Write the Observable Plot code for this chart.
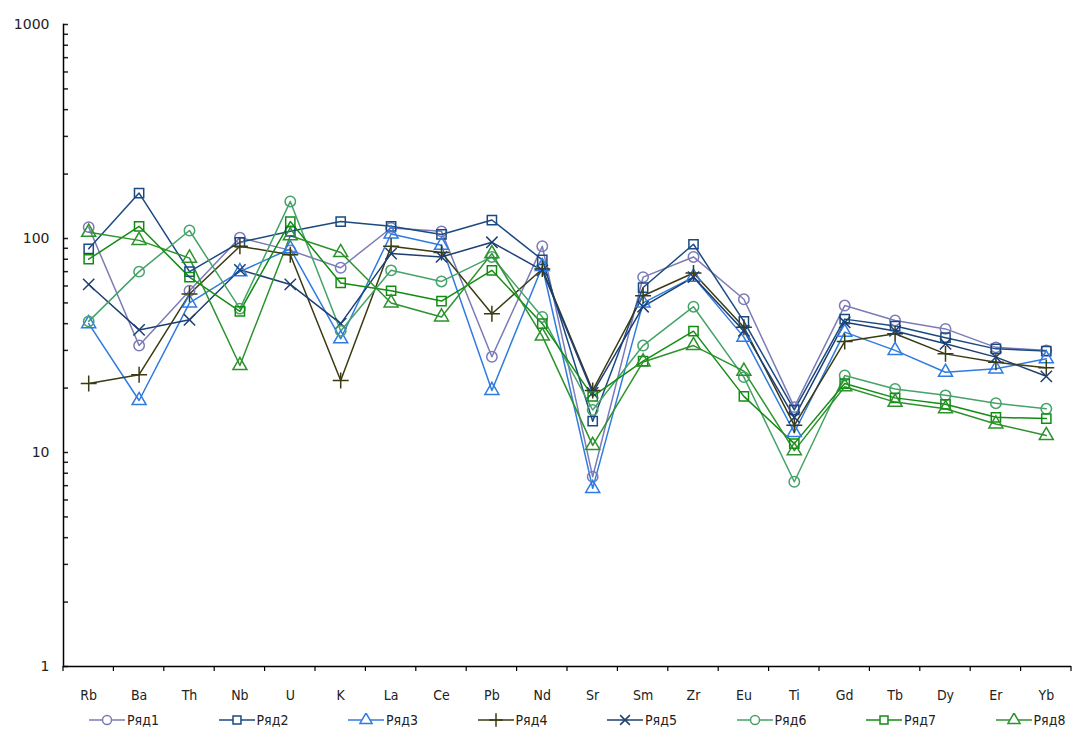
<!DOCTYPE html>
<html><head><meta charset="utf-8">
<script src="https://cdn.jsdelivr.net/npm/d3@7"></script>
<script src="https://cdn.jsdelivr.net/npm/@observablehq/plot@0.6"></script>
<style>
body{margin:0;background:#fff;}
#legend{display:flex;padding-left:88px;height:28px;align-items:center;font-family:"Liberation Sans Narrow","DejaVu Sans Condensed",sans-serif;font-size:14px;color:#222;}
.item{width:129.5px;display:flex;align-items:center;flex:none;}
.item svg{margin-right:1px;}
</style>
</head><body>
<div id="chart"></div>
<div id="legend"></div>
<script>
const elements = ["Rb","Ba","Th","Nb","U","K","La","Ce","Pb","Nd","Sr","Sm","Zr","Eu","Ti","Gd","Tb","Dy","Er","Yb"];
const ryad1 = [113,31.6,57,101,88,73,112,108,28,92,7.7,66,82,52,16.3,48.6,41.4,37.8,31,30];
const ryad2 = [89.5,163,70,96,108,120,114,104.5,122,79.5,14,59,94,41,15.8,42,39,34.4,30.5,29.8];
const ryad3 = [40,17.5,50,70,89.5,34,105,93,19.5,74,6.8,50,66,34.6,12.4,36.5,30,23.7,24.6,27.4];
const ryad4 = [21,23.1,55,92,84,21.7,92,86,44.5,72,19.5,54,69,38.5,13.4,33,35.9,28.9,26.4,24.9];
const ryad5 = [61,37.4,41.7,71.4,61,40,85,82,96,71,19,48,66,37,14.6,40.6,37,32.2,27.9,22.7];
const ryad6 = [41,70,109,47,149,37,71,63,82,43,15.8,31.6,48,22.5,7.3,22.9,19.8,18.5,17,16];
const ryad7 = [80,114,66,45.7,120,62,57,51,71,40,18.3,26.7,36.9,18.3,11,21,18,16.8,14.6,14.4];
const ryad8 = [107,98,81,25.5,103,86,50,43,85,35,10.8,26.5,31.6,24,10.2,20.3,17.2,16,13.6,12];
const seriesNames = ["Ряд1","Ряд2","Ряд3","Ряд4","Ряд5","Ряд6","Ряд7","Ряд8"];
const seriesColors = ["#7b7bb8","#1b4a82","#2f7be0","#3b3b12","#1d3f72","#45a268","#128c12","#2c922c"];
const seriesSymbols = ["circle","square","triangle","plus","times","circle","square","triangle"];
const yMajor = [1,10,100,1000];
const yMinor = [2,3,4,5,6,7,8,9,20,30,40,50,60,70,80,90,200,300,400,500,600,700,800,900];

const allSeries = [ryad1,ryad2,ryad3,ryad4,ryad5,ryad6,ryad7,ryad8];
const data = allSeries.flatMap((vals, s) => vals.map((v, i) => ({el: elements[i], value: v, series: seriesNames[s]})));

const chart = Plot.plot({
  width: 1078, height: 706,
  marginTop: 24, marginBottom: 40, marginLeft: 63, marginRight: 7,
  style: {background: "#fff", color: "#222"},
  x: {type: "point", domain: elements, padding: 0.5, round: false},
  y: {type: "log", domain: [1, 1000]},
  color: {domain: seriesNames, range: seriesColors},
  symbol: {domain: seriesNames, range: seriesSymbols},
  marks: [
    Plot.axisY({ticks: yMajor, tickFormat: d3.format("d"), tickSize: 0, tickPadding: 14, fontSize: 14, fontFamily: "DejaVu Sans", label: null}),
    Plot.axisY({ticks: yMajor.concat(yMinor), tickFormat: () => "", tickSize: -5, strokeWidth: 1.5, label: null}),
    Plot.axisX({tickSize: 0, tickPadding: 24, fontSize: 14, fontFamily: "Liberation Sans Narrow, DejaVu Sans Condensed, sans-serif", label: null}),
    Plot.ruleY([1], {stroke: "#000", strokeWidth: 1.5}),
    Plot.frame({anchor: "left", stroke: "#000", strokeWidth: 1.5}),
    Plot.line(data, {x: "el", y: "value", z: "series", stroke: "series", strokeWidth: 1.5}),
    Plot.dot(data, {x: "el", y: "value", stroke: "series", symbol: "series", r: 5.2, strokeWidth: 1.5, fill: "none"})
  ]
});
document.getElementById("chart").appendChild(chart);

// x-axis boundary ticks using the Plot x scale
const xs = chart.scale("x");
const ys = chart.scale("y");
const step = xs.apply(elements[1]) - xs.apply(elements[0]);
const y0 = ys.apply(1);
const g = d3.select(chart).append("g").attr("stroke", "#000").attr("stroke-width", 1.2);
const bounds = elements.map(e => xs.apply(e) - step / 2).concat([xs.apply(elements[elements.length - 1]) + step / 2]);
bounds.forEach(bx => g.append("line").attr("x1", bx).attr("x2", bx).attr("y1", y0).attr("y2", y0 + 5));

// legend
const legend = d3.select("#legend");
const symMap = {circle: d3.symbolCircle, square: d3.symbolSquare, triangle: d3.symbolTriangle, plus: d3.symbolPlus, times: d3.symbolTimes};
seriesNames.forEach((name, i) => {
  const item = legend.append("div").attr("class", "item");
  const s = item.append("svg").attr("width", 38).attr("height", 14);
  s.append("line").attr("x1", 1).attr("x2", 37).attr("y1", 7).attr("y2", 7).attr("stroke", seriesColors[i]).attr("stroke-width", 1.5);
  s.append("path").attr("transform", "translate(19,7)").attr("d", d3.symbol(symMap[seriesSymbols[i]], Math.PI * 4.5 * 4.5)())
    .attr("fill", "#fff").attr("stroke", seriesColors[i]).attr("stroke-width", 1.5);
  item.append("span").text(name);
});
</script>
</body></html>
